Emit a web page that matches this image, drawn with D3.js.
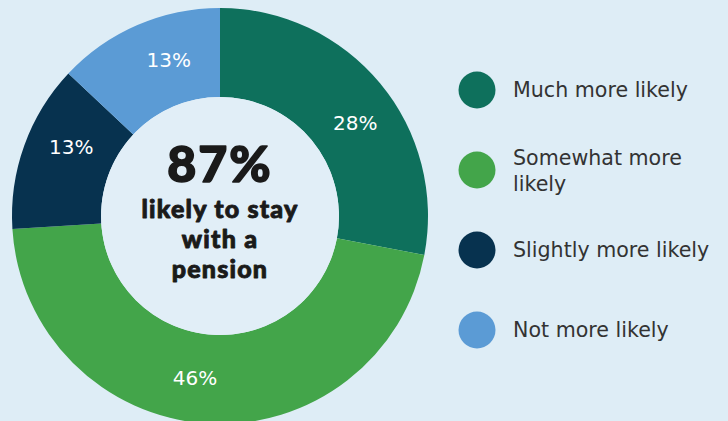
<!DOCTYPE html>
<html><head><meta charset="utf-8">
<script src="https://cdn.jsdelivr.net/npm/d3@7"></script>
<style>
html,body{margin:0;padding:0;background:#deedf6;}
svg{display:block;}
</style></head>
<body>
<svg id="chart" width="728" height="421"></svg>
<script>
const categories = ["Much more likely", "Somewhat more likely", "Slightly more likely", "Not more likely"];
const values = [28, 46, 13, 13];
const colors = ["#0e705c", "#43a54a", "#07324f", "#5b9bd5"];
const legendLines = [["Much more likely"], ["Somewhat more", "likely"], ["Slightly more likely"], ["Not more likely"]];
const centerHeadline = "87%";
const centerLines = ["likely to stay", "with a", "pension"];

const svg = d3.select("#chart");
svg.append("rect").attr("width", 728).attr("height", 421).attr("fill", "#deedf6");

const cx = 220, cy = 216, rOuter = 208, rInner = 119;
const g = svg.append("g").attr("transform", `translate(${cx},${cy})`);

const data = categories.map((c, i) => ({ cat: c, value: values[i], color: colors[i] }));
const pie = d3.pie().value(d => d.value).sort(null);
const arcs = pie(data);
const arc = d3.arc().innerRadius(rInner).outerRadius(rOuter);
const labelR = 164, labelShift = 0.09;

g.selectAll("path.slice").data(arcs).join("path")
  .attr("class", "slice")
  .attr("d", arc)
  .attr("fill", d => d.data.color);

g.selectAll("text.pct").data(arcs).join("text")
  .attr("class", "pct")
  .attr("transform", d => {
    const a = (d.startAngle + d.endAngle) / 2 + labelShift;
    return `translate(${labelR * Math.sin(a)},${-labelR * Math.cos(a)})`;
  })
  .attr("text-anchor", "middle")
  .attr("dominant-baseline", "central")
  .attr("fill", "#ffffff")
  .style("font-family", "'DejaVu Sans', sans-serif")
  .style("font-size", "20px")
  .text(d => d.data.value + "%");

g.append("circle").attr("r", rInner).attr("fill", "#e1eef7");

const ct = g.append("text")
  .attr("text-anchor", "middle")
  .attr("fill", "#1a1a1a")
  .attr("stroke", "#1a1a1a")
  .attr("stroke-linejoin", "round")
  .style("font-family", "Lato, sans-serif")
  .style("font-weight", "900");
ct.append("tspan").attr("x", 0).attr("y", -34)
  .attr("stroke-width", 1.6)
  .style("font-size", "50px").style("letter-spacing", "2px").text(centerHeadline);
centerLines.forEach((l, i) => {
  ct.append("tspan").attr("x", 0).attr("y", 2 + i * 30)
    .attr("stroke-width", 0.9)
    .style("font-size", "25px").style("letter-spacing", "1.2px").text(l);
});

// legend
const legendY = d3.scalePoint().domain(categories).range([90, 330]);
const lg = svg.append("g");
const items = lg.selectAll("g.item").data(data).join("g")
  .attr("class", "item")
  .attr("transform", d => `translate(477,${legendY(d.cat)})`);
items.append("circle").attr("r", 18.5).attr("fill", d => d.color);
items.each(function (d, i) {
  const lines = legendLines[i];
  const t = d3.select(this).append("text")
    .attr("fill", "#333333")
    .style("font-family", "'DejaVu Sans', sans-serif")
    .style("font-size", "20.6px");
  const off = lines.length === 1 ? 7 : -5;
  lines.forEach((l, j) => {
    t.append("tspan").attr("x", 36).attr("y", off + j * 26).text(l);
  });
});
</script>
</body></html>
